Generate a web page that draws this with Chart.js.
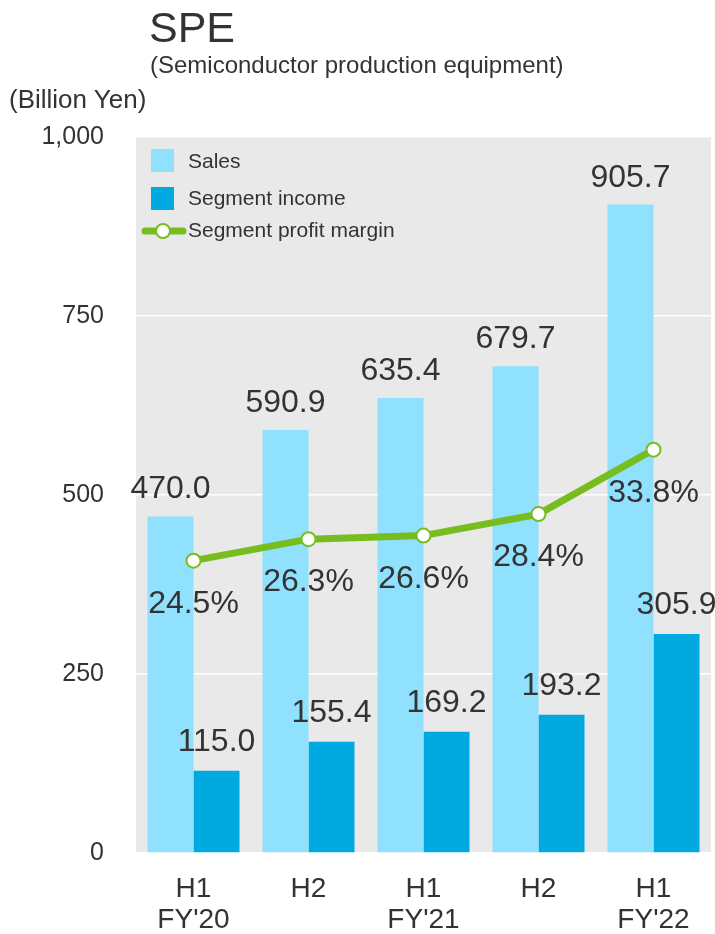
<!DOCTYPE html>
<html>
<head>
<meta charset="utf-8">
<script src="https://cdn.jsdelivr.net/npm/chart.js@4.4.0/dist/chart.umd.min.js"></script>
<style>
  html, body { margin: 0; padding: 0; background: #fff; }
  body { width: 715px; height: 934px; position: relative; overflow: hidden; font-family: "Liberation Sans", Arial, sans-serif; color: #333; }
  #wrap { position: absolute; left: 0; top: 0; width: 715px; height: 934px; }
  .t { position: absolute; white-space: nowrap; line-height: 1.15; }
  #title { left: 149px; top: 3px; font-size: 43px; }
  #sub { left: 150px; top: 51px; font-size: 24px; }
  #unit { left: 9px; top: 85px; font-size: 26px; }
</style>
</head>
<body>
<div id="wrap"><canvas id="c" width="715" height="934"></canvas></div>
<div class="t" id="title">SPE</div>
<div class="t" id="sub">(Semiconductor production equipment)</div>
<div class="t" id="unit">(Billion Yen)</div>
<script>
const periods = [['H1', "FY'20"], ['H2', ''], ['H1', "FY'21"], ['H2', ''], ['H1', "FY'22"]];
const sales = [470.0, 590.9, 635.4, 679.7, 905.7];
const income = [115.0, 155.4, 169.2, 193.2, 305.9];
const margin = [24.5, 26.3, 26.6, 28.4, 33.8];
const yTicks = [0, 250, 500, 750, 1000];

const FONT = '"Liberation Sans", Arial, sans-serif';
const TXT = '#333333';
const C_SALES = '#8fe1fd';
const C_INCOME = '#00a9e0';
const C_LINE = '#78bd20';

// gray plot background
const bgPlugin = {
  id: 'bg',
  beforeDraw(chart) {
    const a = chart.chartArea, ctx = chart.ctx;
    ctx.save();
    ctx.fillStyle = '#e9e9e9';
    ctx.fillRect(a.left, a.top, a.right - a.left, a.bottom - a.top);
    ctx.restore();
  }
};

// value labels + legend drawn inside the plot
const labelPlugin = {
  id: 'labels',
  afterDatasetsDraw(chart) {
    const ctx = chart.ctx;
    ctx.save();
    ctx.fillStyle = TXT;
    ctx.font = '32px ' + FONT;
    ctx.textAlign = 'center';
    ctx.textBaseline = 'alphabetic';
    chart.getDatasetMeta(0).data.forEach((b, i) => {
      ctx.fillText(sales[i].toFixed(1), b.x, b.y - 18);
    });
    chart.getDatasetMeta(1).data.forEach((b, i) => {
      ctx.fillText(income[i].toFixed(1), b.x, b.y - 20);
    });
    chart.getDatasetMeta(2).data.forEach((p, i) => {
      ctx.fillText(margin[i].toFixed(1) + '%', p.x, p.y + 52);
    });

    // legend
    const a = chart.chartArea;
    const lx = a.left + 15, ty = a.top;
    ctx.font = '21px ' + FONT;
    ctx.textAlign = 'left';
    ctx.textBaseline = 'middle';
    ctx.fillStyle = C_SALES;
    ctx.fillRect(lx, ty + 12, 23, 23);
    ctx.fillStyle = C_INCOME;
    ctx.fillRect(lx, ty + 50, 23, 23);
    ctx.strokeStyle = C_LINE;
    ctx.lineWidth = 7;
    ctx.lineCap = 'round';
    ctx.beginPath();
    ctx.moveTo(lx - 6, ty + 94);
    ctx.lineTo(lx + 32, ty + 94);
    ctx.stroke();
    ctx.beginPath();
    ctx.arc(lx + 12, ty + 94, 7, 0, Math.PI * 2);
    ctx.fillStyle = '#fff';
    ctx.fill();
    ctx.lineWidth = 2;
    ctx.stroke();
    ctx.fillStyle = TXT;
    ctx.fillText('Sales', lx + 37, ty + 25);
    ctx.fillText('Segment income', lx + 37, ty + 62);
    ctx.fillText('Segment profit margin', lx + 37, ty + 94);
    ctx.restore();
  }
};

new Chart(document.getElementById('c').getContext('2d'), {
  data: {
    labels: periods,
    datasets: [
      {
        type: 'bar',
        label: 'Sales',
        data: sales,
        backgroundColor: C_SALES,
        barPercentage: 1,
        categoryPercentage: 0.8,
        yAxisID: 'y',
        order: 2
      },
      {
        type: 'bar',
        label: 'Segment income',
        data: income,
        backgroundColor: C_INCOME,
        barPercentage: 1,
        categoryPercentage: 0.8,
        yAxisID: 'y',
        order: 2
      },
      {
        type: 'line',
        label: 'Segment profit margin',
        data: margin,
        borderColor: C_LINE,
        borderWidth: 7,
        pointRadius: 7,
        pointBorderWidth: 2,
        pointBackgroundColor: '#ffffff',
        pointBorderColor: C_LINE,
        tension: 0,
        yAxisID: 'y1',
        order: 1
      }
    ]
  },
  options: {
    responsive: false,
    animation: false,
    devicePixelRatio: 1,
    layout: { autoPadding: false, padding: { top: 137, right: 4, left: 0, bottom: 0 } },
    plugins: {
      legend: { display: false },
      tooltip: { enabled: false }
    },
    scales: {
      x: {
        grid: { display: false, drawTicks: false },
        border: { display: false },
        ticks: {
          color: TXT,
          font: { family: FONT, size: 28, lineHeight: 1.1 },
          padding: 21,
          maxRotation: 0
        },
        afterFit(scale) {
          scale.height = 81;
          scale.paddingLeft = 0;
          scale.paddingRight = 0;
        }
      },
      y: {
        min: 0,
        max: 1000,
        afterBuildTicks(scale) { scale.ticks = yTicks.map(v => ({ value: v })); },
        grid: { color: '#ffffff', lineWidth: 1.5, drawTicks: false },
        border: { display: false },
        ticks: {
          color: TXT,
          font: { family: FONT, size: 25 },
          padding: 32,
          callback: v => v.toLocaleString('en-US')
        },
        afterFit(scale) {
          scale.width = 136;
          scale.paddingTop = 0;
          scale.paddingBottom = 0;
        }
      },
      y1: {
        display: false,
        min: 0,
        max: 60
      }
    }
  },
  plugins: [bgPlugin, labelPlugin]
});
</script>
</body>
</html>
